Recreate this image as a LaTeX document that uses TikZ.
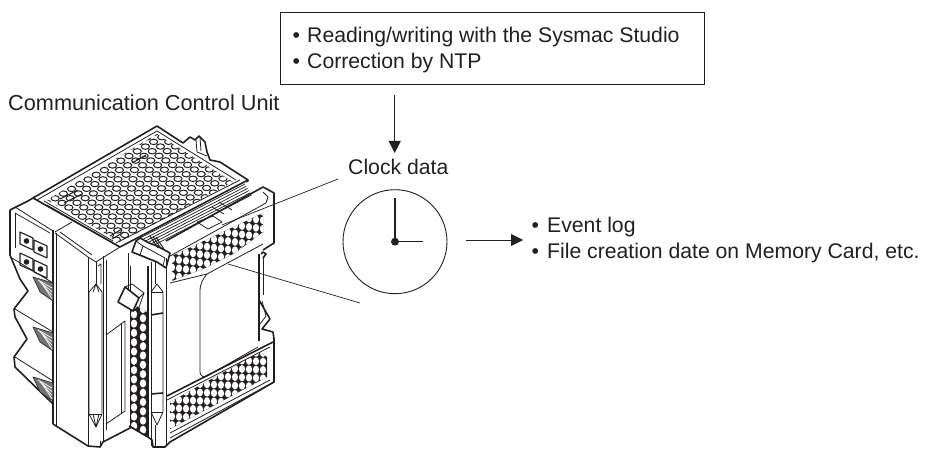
\documentclass[tikz,border=0pt]{standalone}
\usepackage{fontspec}
\setmainfont{Liberation Sans}
\usetikzlibrary{arrows.meta}
\definecolor{ink}{HTML}{231F20}
\tikzset{
  lbl/.style={anchor=base west,inner sep=0pt,text=ink,font=\fontsize{21.2}{21.2}\selectfont},
  hair/.style={draw=ink,line width=0.7pt},
  thin part/.style={draw=ink,line width=0.8pt,line join=round},
  thick part/.style={draw=ink,line width=1.6pt,line join=round},
  hole/.style={fill=white,draw=ink,line width=1pt},
  arrowline/.style={draw=ink,line width=0.9pt,-{Triangle[length=12pt,width=12pt]}},
  hatchfill/.style={fill=black!55,draw=ink,line width=0.6pt},
}
\begin{document}
\begin{tikzpicture}[x=1pt,y=-1pt]
\useasboundingbox (0,0) rectangle (926,449);
% ---------- unit body silhouette
\fill[white] (10,210)--(33,198)--(157,126)--(274,193)--(274,382)--(170,442)--(153,447)--(100,447)--(88,446)--(53,424)--(15,367)--(10,255)--cycle;
% top face holes
\begin{scope}
\clip (47,200)--(157,134)--(233,182)--(120,242)--cycle;
\foreach \i in {-3,...,17}{\foreach \j in {-3,...,15}{
  \path[hole] ({47+8.2*\i+6.8*\j},{203-4.7*\i+4.6*\j}) ellipse [x radius=4.1pt,y radius=2.7pt];
}}
\end{scope}
% top face outlines
\draw[thick part] (10,210)--(28,201)--(33,198)--(157,126)--(183,143)--(190,137)--(195,140)--(199,136)--(205,142)--(207,152)--(210,160)--(220,162)--(248,180)--(247,184);
\draw[thin part] (37,200)--(157,131)--(236,180);
\draw[thin part] (47,205)--(118,246);
\draw[thick part] (33,198)--(120,247)--(248,180);
\draw[thin part] (44,201)--(113,241);
\draw[thin part] (116,243)--(240,180);
% top clips
\draw[thin part] (196,140)--(197,152)--(207,156);
\draw[thin part] (200,137)--(201,151);
\foreach \a/\b/\c/\d in {60/199/78/190,64/203/82/194,132/163/146/155,136/160/146/156,110/236/122/229,112/239/124/232}{\draw[line width=1pt,draw=ink] (\a,\b)--(\c,\d);}
% groove between the top face and the side panel
\fill[white] (133,247)--(248,182)--(263,187)--(165,250)--cycle;
\foreach \k in {0,2.2,...,11}{\draw[hair] ({140+\k*.6},{238+\k})--({245+\k*.6},{184+\k});}
\draw[thin part,fill=white] (197,222)--(208,229)--(222,222)--(213,216)--cycle;
\draw[thin part] (212,207)--(224,214);
\draw[thin part] (219,202)--(232,210);
% upper side panel
\begin{scope}
\clip (172,256)--(263,213)--(263,232)--(235,253)--(205,268)--(172,281)--cycle;
\fill[ink] (165,205) rectangle (270,290);
\foreach \i in {0,...,14}{\foreach \j in {-4,...,6}{
  \path[fill=white] ({172+7*\i},{259-3.3*\i+4.2*mod(\i,2)+8.4*\j}) ellipse [x radius=3.1pt,y radius=3.9pt];
}}
\end{scope}
\draw[thick part] (166,241)--(263,187)--(274,193)--(274,243)--(263,250);
\draw[thin part] (170,256)--(266,203);
\draw[thin part] (266,203)--(268,197)--(263,192);
\draw[thin part] (170,283)--(207,274);
\draw[thin part] (207,274) .. controls (203,279) and (200,283) .. (200,292) -- (200,372) .. controls (200,376) and (204,378) .. (207,376) -- (258,347);
\draw[thin part] (207,274)--(263,244);
% latch of the side panel
\draw[thick part,fill=white] (132,252)--(136,241)--(140,238)--(149,243)--(157,246)--(170,253)--(166,268)--(157,262)--cycle;
\draw[thin part] (136,241)--(143,246)--(140,255);
\draw[thin part] (143,246)--(165,258)--(163,266);
\foreach \k in {0,3,6}{\draw[line width=1pt,draw=ink] ({150+\k},{236+\k*.2})--({158+\k},{248+\k*.2});}
% din clip
\draw[thick part] (259,254)--(259,341);
\draw[thick part] (261,254)--(263,252)--(266,254)--(263,258);
\draw[thin part] (263,258)--(263,295);
\draw[thick part] (259,300)--(270,319)--(262,329)--(273,332)--(274,339);
\draw[thin part] (262,301)--(266,316)--(260,324);
% lower side panel
\begin{scope}
\clip (170,402)--(260,352)--(267,357)--(267,377)--(170,429)--cycle;
\fill[ink] (165,345) rectangle (270,435);
\foreach \i in {0,...,14}{\foreach \j in {-6,...,8}{
  \path[fill=white] ({172+7*\i},{408-3.9*\i+4.2*mod(\i,2)+8.4*\j}) ellipse [x radius=3.1pt,y radius=3.9pt];
}}
\end{scope}
\draw[thick part] (167,396)--(273,342);
\draw[thin part] (167,400)--(270,347);
\draw[thin part] (170,433)--(270,380);
\draw[thin part] (170,438)--(274,382);
\draw[thick part] (274,339)--(274,382)--(170,442)--(165,447)--(153,447)--(152,440)--(148,437)--(132,427)--(103,442)--(100,447)--(88,446)--(53,424);
% perforated column
\begin{scope}
\clip (130,302)--(147,312)--(147,437)--(130,425)--cycle;
\fill[ink] (128,295) rectangle (150,440);
\foreach \j in {0,...,14}{
  \path[fill=white] (134,{305+9.3*\j}) ellipse [x radius=3.2pt,y radius=4.1pt];
  \path[fill=white] (143,{309+9.3*\j}) ellipse [x radius=3.2pt,y radius=4.1pt];
}
\end{scope}
\draw[thin part] (130,266)--(130,427);
\draw[thick part] (129,426)--(148,437);
% strap column
\draw[thin part] (128,253)--(128,300);
\draw[thick part] (148,266)--(148,437);
\draw[thin part] (151,262)--(151,446);
\draw[thin part] (166,258)--(166,446);
\draw[thin part] (151,292)--(157,284)--(163,292)--(163,412)--(157,425)--(151,412);
\draw[thin part] (151,292)--(163,292);
\draw[thin part] (151,412)--(163,412);
\draw[thick part] (151,315)--(163,313);
\draw[thick part] (151,394)--(163,393);
\draw[thin part] (155,262)--(155,284);
\draw[thin part] (155,425)--(155,446);
% pull latch
\draw[thick part,fill=white] (125,287)--(118,302)--(133,311)--(139,298)--cycle;
\draw[thin part] (125,287)--(132,284)--(144,293)--(139,298);
\draw[thin part] (133,311)--(138,310)--(144,293);
% front part
\draw[thick part] (53,230)--(53,424);
\draw[thin part] (56,233)--(56,426);
\draw[thin part] (55,233)--(88,257)--(96,262)--(120,247);
\draw[thin part] (60,232)--(92,255);
\draw[thin part] (72,222)--(55,232);
\draw[thin part] (88,257)--(88,446);
\draw[thin part] (96,262)--(96,284);
\draw[thin part] (103,256)--(103,442);
\draw[thin part] (106,260)--(106,430);
\draw[thin part] (98,266)--(101,264)--(101,284);
% front pill
\draw[thin part] (89,292)--(96,284)--(102,292)--(102,414)--(96,427)--(89,414)--cycle;
\draw[thin part] (89,414)--(102,414);
\draw[thin part] (93,292)--(96,284)--(99,292);
\draw[thin part] (93,414)--(96,427)--(99,414);
% window
\draw[thin part] (106,335)--(125,321)--(125,411)--(106,424);
\draw[thin part] (121,323)--(121,413);
\draw[thin part] (100,441)--(100,447);
% left flange
\draw[thick part] (10,210)--(10,255)--(20,279)--(28,291)--(14,309)--(15,317)--(27,339)--(14,357)--(15,367)--(53,404);
\draw[thin part] (15,207)--(53,231);
\draw[thin part] (15,213)--(15,248);
\draw[thin part] (15,213)--(50,233);
\draw[thin part] (12,258)--(53,283);
\draw[thin part] (15,309)--(53,332);
\draw[thin part] (15,357)--(53,381);
% ports
\foreach \px/\py in {20/232,34/240,20/253,34/260}{
  \draw[thin part,line width=1.1pt] (\px,\py)--(\px+13,{\py+6})--(\px+13,{\py+18})--(\px,{\py+12})--cycle;
  \fill[ink] ({\px+6.5},{\py+9}) circle (2.8pt);
}
% louvres
\foreach \y in {0,50,100}{
  \path[hatchfill] (33,{277+\y})--(53,{283+\y})--(53,{301+\y})--(40,{292+\y})--cycle;
  \foreach \k in {0,4,8,12}{\draw[white,line width=0.7pt] ({38+\k*.4},{280+\y+\k*.4})--(52,{288+\y+\k*.9});}
}
% ---------- labels and clock
\node[lbl,font=\fontsize{21.7}{21.7}\selectfont] (unit) at (8,111) {Communication Control Unit};
\node[draw=ink,line width=1pt,minimum width=424pt,minimum height=72pt,inner sep=0pt] (box) at (492.75,49) {};
\node[lbl] (bul1) at (292.3,43) {•};
\node[lbl] (read) at (307,43) {Reading/writing with the Sysmac Studio};
\node[lbl] (bul2) at (292.3,69) {•};
\node[lbl] (corr) at (307,69) {Correction by NTP};
\node[lbl] (clk) at (348,175) {Clock data};
\node[circle,draw=ink,line width=0.9pt,minimum size=104pt,inner sep=0pt] (dial) at (395,241.7) {};
\coordinate (hub) at (dial.center);
\coordinate (h12) at (395,198);
\coordinate (h3) at (423,241.7);
\draw[draw=ink,line width=1.1pt] (hub)--(h12);
\draw[draw=ink,line width=1.1pt] (hub)--(h3);
\fill[ink] (hub) circle (4pt);
\coordinate (inA) at (394.7,95);
\coordinate (inB) at (394.7,153);
\draw[arrowline] (inA)--(inB);
\coordinate (outA) at (466,240);
\coordinate (outB) at (523,240);
\draw[arrowline] (outA)--(outB);
\node[lbl] (bul3) at (531.3,233) {•};
\node[lbl] (ev) at (547,233) {Event log};
\node[lbl] (bul4) at (531.3,258) {•};
\node[lbl] (fc) at (547,258) {File creation date on Memory Card, etc.};
\coordinate (c1) at (222,225);
\coordinate (c2) at (338,179);
\coordinate (c3) at (228,264);
\coordinate (c4) at (360,303);
\draw[hair] (c1)--(c2);
\draw[hair] (c3)--(c4);
\end{tikzpicture}
\end{document}
